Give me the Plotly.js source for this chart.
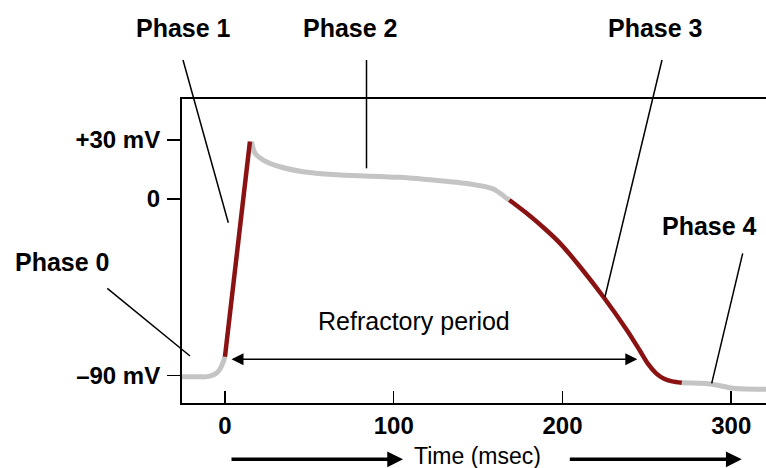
<!DOCTYPE html>
<html>
<head>
<meta charset="utf-8">
<script src="https://cdn.plot.ly/plotly-3.0.1.min.js"></script>
<style>html,body{margin:0;padding:0;background:#fff;}</style>
</head>
<body>
<div id="chart" style="width:766px;height:468px;"></div>
<script>
// ---- data (time in msec, membrane potential in mV) ----
const restTime = [-25.45, -14.8, -12.8, -8.9, -4.9, -2.9, -1.0, 0.0];
const restMv   = [-90.5, -90.5, -90.6, -90.2, -88.6, -86.6, -83.0, -80.3];
const upTime   = [0.0, 14.8];
const upMv     = [-80.3, 29.2];
const plateauTime = [15.8, 17.8, 22.7, 32.6, 46.4, 68.5, 103.7, 133.4, 139.3, 159.0, 167.0, 168.5];
const plateauMv   = [29.2, 23.3, 19.8, 16.4, 13.9, 12.2, 11.0, 8.8, 8.3, 5.1, 0.3, -0.5];
const repolTime = [168.5, 178.8, 189.7, 198.6, 210.4, 224.2, 238.1, 246.0, 250.7, 255.5, 260.2, 265.0, 270.7];
const repolMv   = [-0.5, -7.3, -15.3, -22.6, -34.5, -49.8, -66.7, -77.4, -84.0, -88.8, -91.6, -92.9, -93.6];
const tailTime = [270.7, 287.5, 301.2, 320.6];
const tailMv   = [-93.6, -94.2, -96.4, -96.9];

const xTickVals = [0, 100, 200, 300];
const xTickText = ['0', '100', '200', '300'];
const yTickVals = [30, 0, -90];
const yTickText = ['+30 mV', '0', '\u201390 mV'];

const phaseLabels = ['Phase 0', 'Phase 1', 'Phase 2', 'Phase 3', 'Phase 4'];
const refractoryLabel = 'Refractory period';
const timeLabel = 'Time (msec)';

// ---- layout helpers ----
const W = 766, H = 468;
const M = {l: 182, r: 0, t: 99, b: 65};
const PW = W - M.l - M.r, PH = H - M.t - M.b;
function px(x) { return (x - M.l) / PW; }
function py(y) { return (H - M.b - y) / PH; }

const FONT = 'Liberation Sans, Arial, Helvetica, sans-serif';
const GRAY = '#c4c4c4';
const RED = '#8a1212';

function seg(x, y, color, width, shape) {
  return {x: x, y: y, type: 'scatter', mode: 'lines', hoverinfo: 'skip',
          line: {color: color, width: width, shape: shape || 'spline', smoothing: 0.8},
          showlegend: false};
}

const data = [
  seg(restTime, restMv, GRAY, 5),
  seg(plateauTime, plateauMv, GRAY, 5),
  seg(tailTime, tailMv, GRAY, 5),
  seg(upTime, upMv, RED, 4.5, 'linear'),
  seg(repolTime, repolMv, RED, 4.5)
];

// label positions (pixels)
const labelPos = [[62.5, 262], [183, 28], [350, 28], [655, 28], [709, 226]];
// leader lines (pixels): from label side to curve
const leaders = [
  [107.3, 288.3, 190, 356],
  [183, 60, 228.3, 222.7],
  [366.5, 60, 366.5, 168.3],
  [662, 60, 605, 296.7],
  [742.7, 253.3, 711.7, 383.3]
];

const annotations = [];
phaseLabels.forEach(function (t, i) {
  annotations.push({text: t, xref: 'paper', yref: 'paper',
    x: px(labelPos[i][0]), y: py(labelPos[i][1]), xanchor: 'center', yanchor: 'middle',
    showarrow: false, font: {family: FONT, size: 25, color: '#000', weight: 'bold'}});
});
annotations.push({text: refractoryLabel, xref: 'paper', yref: 'paper',
  x: px(414), y: py(321), xanchor: 'center', yanchor: 'middle', showarrow: false,
  font: {family: FONT, size: 25, color: '#000'}});
annotations.push({text: timeLabel, xref: 'paper', yref: 'paper',
  x: px(477.5), y: py(456), xanchor: 'center', yanchor: 'middle', showarrow: false,
  font: {family: FONT, size: 23, color: '#000'}});
// refractory double arrow
annotations.push({text: '', xref: 'paper', yref: 'paper', x: px(637.3), y: py(359.3),
  ax: 230 - 637.3, ay: 0, showarrow: true, arrowside: 'end+start',
  arrowhead: 2, startarrowhead: 2, arrowsize: 1.6, startarrowsize: 1.6,
  arrowwidth: 1.5, arrowcolor: '#000'});
// time arrows
[[230, 403], [568.3, 741.7]].forEach(function (a) {
  annotations.push({text: '', xref: 'paper', yref: 'paper', x: px(a[1]), y: py(459.3),
    ax: a[0] - a[1], ay: 0, showarrow: true, arrowhead: 2, arrowsize: 0.9,
    arrowwidth: 3.5, arrowcolor: '#000'});
});

const shapes = leaders.map(function (l) {
  return {type: 'line', xref: 'paper', yref: 'paper',
    x0: px(l[0]), y0: py(l[1]), x1: px(l[2]), y1: py(l[3]),
    line: {color: '#000', width: 1.5}};
});

const layout = {
  width: W, height: H, margin: M,
  paper_bgcolor: '#fff', plot_bgcolor: '#fff',
  showlegend: false,
  xaxis: {range: [-25.45, 320.6], showgrid: false, zeroline: false,
    tickvals: xTickVals, ticktext: xTickText, ticks: 'inside', ticklen: 12,
    tickwidth: 1.5, tickcolor: '#000', showline: true, linewidth: 2, linecolor: '#000',
    mirror: true, tickfont: {family: FONT, size: 24, color: '#000', weight: 'bold'},
    fixedrange: true},
  yaxis: {range: [-103.9, 50.9], showgrid: false, zeroline: false,
    tickvals: yTickVals, ticktext: yTickText, ticks: 'outside', ticklen: 13,
    tickwidth: 1.5, tickcolor: '#000', showline: true, linewidth: 2, linecolor: '#000',
    mirror: false, ticklabelstandoff: 2,
    tickfont: {family: FONT, size: 24, color: '#000', weight: 'bold'}, fixedrange: true},
  annotations: annotations,
  shapes: shapes
};

Plotly.newPlot('chart', data, layout, {staticPlot: true, displayModeBar: false});
</script>
</body>
</html>
